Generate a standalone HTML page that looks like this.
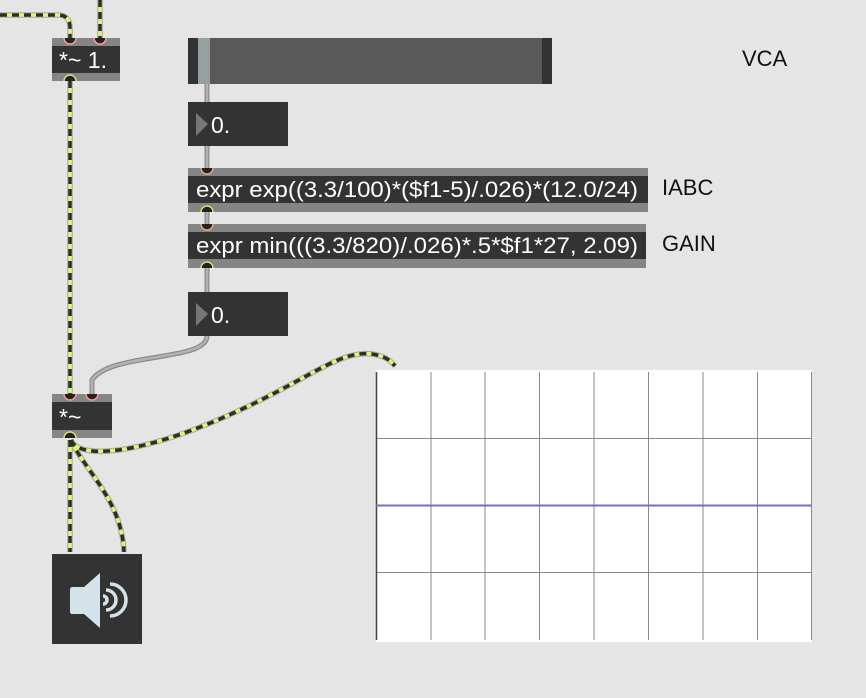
<!DOCTYPE html>
<html><head><meta charset="utf-8"><style>
html,body{margin:0;padding:0;background:#e5e5e5;}
svg{display:block}
text{font-family:"Liberation Sans",Arial,sans-serif;}
</style></head><body>
<svg width="866" height="698" viewBox="0 0 866 698" xmlns="http://www.w3.org/2000/svg">
<rect width="866" height="698" fill="#e5e5e5"/>

<!-- scope -->
<rect x="376" y="370" width="436" height="272" fill="#fff"/>
<g stroke="#8a8a8a" stroke-width="1">
<line x1="431" y1="372" x2="431" y2="640"/><line x1="485" y1="372" x2="485" y2="640"/>
<line x1="539.5" y1="372" x2="539.5" y2="640"/><line x1="594" y1="372" x2="594" y2="640"/>
<line x1="648.5" y1="372" x2="648.5" y2="640"/><line x1="703" y1="372" x2="703" y2="640"/>
<line x1="757.5" y1="372" x2="757.5" y2="640"/><line x1="811.5" y1="372" x2="811.5" y2="640"/>
<line x1="376" y1="438.5" x2="812" y2="438.5"/><line x1="376" y1="572.5" x2="812" y2="572.5"/>
</g>
<line x1="376.5" y1="372" x2="376.5" y2="640" stroke="#444" stroke-width="1.5"/>
<line x1="376" y1="505.5" x2="812" y2="505.5" stroke="#6f6fc4" stroke-width="2"/>

<!-- grey cables -->
<g fill="none" stroke-linecap="round">
<g stroke="#8a8a8a" stroke-width="5">
<path d="M207 84 V102 M207 146 V168 M207 212 V224 M207 268 V292 M207 336 C207 362 110 352 92 380 L92 394"/>
</g>
<g stroke="#b3b3b3" stroke-width="2.5">
<path d="M207 84 V102 M207 146 V168 M207 212 V224 M207 268 V292 M207 336 C207 362 110 352 92 380 L92 394"/>
</g>
</g>

<!-- signal cables -->
<g fill="none" stroke-linecap="butt">
<g stroke="#a8a8a0" stroke-width="5.5">
<path d="M0 15 H58 Q70 15 70 28 V38"/>
<path d="M100 0 V38"/>
<path d="M70 81 V394"/>
<path d="M71 440 C80 462 150 452 240 410 C310 378 340 350 372 354 C385 356 390 360 395 366"/>
<path d="M70 440 V552"/>
<path d="M71 440 C84 470 122 500 124 552"/>
</g>
<g stroke="#dcf57f" stroke-width="3.5">
<path d="M0 15 H58 Q70 15 70 28 V38"/>
<path d="M100 0 V38"/>
<path d="M70 81 V394"/>
<path d="M71 440 C80 462 150 452 240 410 C310 378 340 350 372 354 C385 356 390 360 395 366"/>
<path d="M70 440 V552"/>
<path d="M71 440 C84 470 122 500 124 552"/>
</g>
<g stroke="#2b3023" stroke-width="3.5" stroke-dasharray="7 5">
<path d="M0 15 H58 Q70 15 70 28 V38"/>
<path d="M100 0 V38"/>
<path d="M70 81 V394"/>
<path d="M71 440 C80 462 150 452 240 410 C310 378 340 350 372 354 C385 356 390 360 395 366"/>
<path d="M70 440 V552"/>
<path d="M71 440 C84 470 122 500 124 552"/>
</g>
</g>

<!-- *~ 1. -->
<rect x="52" y="38" width="68" height="43" fill="#858585"/>
<rect x="52" y="46" width="68" height="27" fill="#333"/>
<path d="M64 38 a6 6 0 0 0 12 0" fill="#222" stroke="#f0a090" stroke-width="1.5"/>
<path d="M94 38 a6 6 0 0 0 12 0" fill="#222" stroke="#f0a090" stroke-width="1.5"/>
<path d="M64 81 a6 6 0 0 1 12 0" fill="#222" stroke="#d8e070" stroke-width="1.5"/>
<text x="59" y="68" font-size="23" fill="#fff">*~ 1.</text>

<!-- slider -->
<rect x="188" y="38" width="364" height="46" fill="#595959"/>
<rect x="188" y="38" width="10" height="46" fill="#333"/>
<rect x="542" y="38" width="10" height="46" fill="#333"/>
<rect x="198" y="38" width="12" height="46" fill="#96a0a0"/>

<!-- number 1 -->
<rect x="188" y="102" width="100" height="44" fill="#333"/>
<path d="M196 113 L208 124 L196 136 Z" fill="#777"/>
<text x="211" y="133" font-size="23" fill="#fff">0.</text>

<!-- expr 1 -->
<rect x="188" y="168" width="460" height="44" fill="#858585"/>
<rect x="188" y="176" width="460" height="27" fill="#333"/>
<path d="M201 168 a6 6 0 0 0 12 0" fill="#222" stroke="#f0a090" stroke-width="1.5"/>
<path d="M201 212 a6 6 0 0 1 12 0" fill="#222" stroke="#d8e070" stroke-width="1.5"/>
<text x="196" y="197" font-size="22" fill="#fff" textLength="442" lengthAdjust="spacingAndGlyphs">expr exp((3.3/100)*($f1-5)/.026)*(12.0/24)</text>

<!-- expr 2 -->
<rect x="188" y="224" width="458" height="44" fill="#858585"/>
<rect x="188" y="232" width="458" height="27" fill="#333"/>
<path d="M201 224 a6 6 0 0 0 12 0" fill="#222" stroke="#f0a090" stroke-width="1.5"/>
<path d="M201 268 a6 6 0 0 1 12 0" fill="#222" stroke="#d8e070" stroke-width="1.5"/>
<text x="196" y="253" font-size="22" fill="#fff" textLength="442" lengthAdjust="spacingAndGlyphs">expr min(((3.3/820)/.026)*.5*$f1*27, 2.09)</text>

<!-- number 2 -->
<rect x="188" y="292" width="100" height="44" fill="#333"/>
<path d="M196 303 L208 314 L196 326 Z" fill="#777"/>
<text x="211" y="323" font-size="23" fill="#fff">0.</text>

<!-- *~ -->
<rect x="52" y="394" width="60" height="44" fill="#858585"/>
<rect x="52" y="402" width="60" height="28" fill="#333"/>
<path d="M64 394 a6 6 0 0 0 12 0" fill="#222" stroke="#f0a090" stroke-width="1.5"/>
<path d="M86 394 a6 6 0 0 0 12 0" fill="#222" stroke="#f0a090" stroke-width="1.5"/>
<path d="M64 438 a6 6 0 0 1 12 0" fill="#222" stroke="#d8e070" stroke-width="1.5"/>
<text x="59" y="425" font-size="23" fill="#fff">*~</text>

<!-- speaker -->
<rect x="52" y="554" width="90" height="90" fill="#333"/>
<path d="M72 587 Q70 587 70 590 V611 Q70 614 72 614 H84 L100 628 V573 L84 587 Z" fill="#d3e3e8"/>
<g fill="none" stroke="#d3e3e8" stroke-width="3.5">
<path d="M103 596 a4 4 0 0 1 0 8"/>
<path d="M106 590 a10 10 0 0 1 0 20"/>
<path d="M110 584 a16 16 0 0 1 0 32"/>
</g>

<!-- labels -->
<text x="742" y="66" font-size="22" fill="#111">VCA</text>
<text x="662" y="195" font-size="22" fill="#111">IABC</text>
<text x="662" y="251" font-size="22" fill="#111">GAIN</text>
</svg>
</body></html>
